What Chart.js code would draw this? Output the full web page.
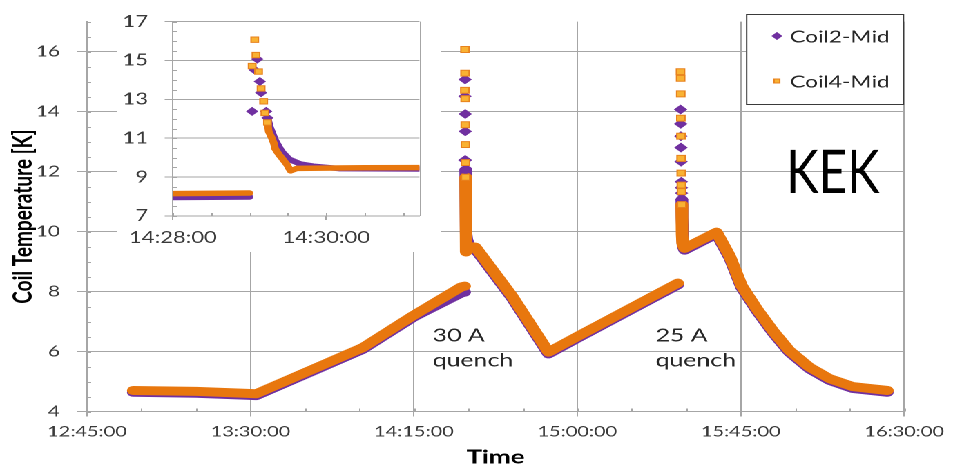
<!DOCTYPE html>
<html>
<head>
<meta charset="utf-8">
<title>Coil temperature</title>
<script src="https://cdn.jsdelivr.net/npm/chart.js@4.4.1/dist/chart.umd.min.js"></script>
<style>
  html, body { margin: 0; padding: 0; background: #fff; overflow: hidden; }
  /* the sheet is laid out narrow and widened as a whole */
  #stage { position: relative; width: 690px; height: 467px; transform: scaleX(1.3812); transform-origin: 0 0; }
  #main { position: absolute; left: 0; top: 0; }
  #zoom { position: absolute; left: 84.7px; top: 0; background: #fff; }
</style>
</head>
<body>
<div id="stage">
  <canvas id="main" width="690" height="467"></canvas>
  <canvas id="zoom" width="234" height="252"></canvas>
</div>
<script>
// ---- data (null = gap in the trace) ----
const coil2Time = ['12:57:42','13:15:06','13:31:34','14:00:54','14:15:06','14:28:00','14:29:00','14:29:01',
  '14:29:14','14:29:16','14:29:20','14:29:25','14:29:31','14:29:40','14:29:50','14:30:10','14:31:13','14:31:56',
  '14:42:00','14:52:04','15:00:00','15:27:40','15:28:00',
  '15:28:45','15:28:48','15:28:52','15:28:56','15:29:01','15:29:10','15:29:32','15:38:20','15:42:00','15:45:12',
  '15:49:18','15:53:54','15:58:24','16:03:54','16:09:24','16:15:48','16:25:24'];
const coil2Temp = [4.64,4.61,4.53,6.07,7.16,7.95,7.98,null,
  12.05,11.56,10.90,10.33,9.92,9.67,9.56,9.44,9.42,9.41,
  7.79,5.92,6.44,8.22,null,
  11.06,10.79,10.46,10.14,9.81,9.52,9.38,9.92,9.11,8.14,
  7.38,6.62,5.97,5.42,5.04,4.77,4.64];

const coil4Time = ['12:57:42','13:15:06','13:31:34','14:00:54','14:15:06','14:28:00','14:29:00','14:29:01',
  '14:29:14','14:29:15','14:29:17','14:29:19','14:29:20','14:29:23','14:29:26','14:29:29','14:29:32','14:29:37',
  '14:30:30','14:31:13','14:31:56','14:42:00','14:52:04','15:00:00','15:27:40','15:28:00',
  '15:28:44','15:28:47','15:28:50','15:28:54','15:28:58','15:29:10','15:29:32','15:38:20','15:42:00','15:45:12',
  '15:49:18','15:53:54','15:58:24','16:03:54','16:09:24','16:15:48','16:25:24'];
const coil4Temp = [4.70,4.67,4.59,6.13,7.22,8.15,8.18,null,
  11.81,11.34,11.07,10.74,10.46,10.16,9.92,9.67,9.32,9.45,
  9.48,9.49,9.48,7.85,5.98,6.50,8.28,null,
  10.90,10.57,10.24,9.91,9.62,9.55,9.44,9.98,9.17,8.20,
  7.44,6.68,6.03,5.48,5.10,4.83,4.70];

// sparse readings right after each quench (30 A, then 25 A)
const coil2QuenchTime = ['14:29:02','14:29:04','14:29:06','14:29:08','14:29:09','14:29:13','14:29:14',
  '15:28:26','15:28:28','15:28:30','15:28:32','15:28:34','15:28:38','15:28:40','15:28:42','15:28:45'];
const coil2QuenchTemp = [12.38,14.51,15.07,13.92,13.34,12.38,12.05,
  14.07,13.59,13.18,12.80,12.33,11.66,11.46,11.28,11.06];
const coil4QuenchTime = ['14:29:02','14:29:04','14:29:05','14:29:07','14:29:09','14:29:11','14:29:12','14:29:14',
  '15:28:25','15:28:27','15:28:29','15:28:31','15:28:33','15:28:35','15:28:37','15:28:39','15:28:41','15:28:44'];
const coil4QuenchTemp = [14.71,16.07,15.28,14.43,13.56,12.90,12.30,11.81,
  15.33,15.11,14.59,13.78,13.18,12.44,11.95,11.55,11.33,10.90];

const mainTimeTicks = ['12:45:00','13:30:00','14:15:00','15:00:00','15:45:00','16:30:00'];
const mainTempTicks = [4, 6, 8, 10, 12, 14, 16];
const zoomTimeTicks = ['14:28:00','14:30:00'];
const zoomTempTicks = [7, 9, 11, 13, 15, 17];

// ---- helpers ----
const sec = t => { const p = t.split(':').map(Number); return p[0] * 3600 + p[1] * 60 + p[2]; };
const clock = s => {
  s = Math.round(s);
  const h = Math.floor(s / 3600), m = Math.floor(s % 3600 / 60), x = s % 60;
  return h + ':' + String(m).padStart(2, '0') + ':' + String(x).padStart(2, '0');
};
const points = (times, temps) => times.map((t, i) => ({ x: sec(t), y: temps[i] }));

const GRID = '#a6a6a6';
const INK = '#3a3a3a';
const PURPLE = '#7030a0';
const ORANGE = '#e8770e';

function traces(lineWidth, mark) {
  return [
    { label: 'Coil4-Mid', data: points(coil4QuenchTime, coil4QuenchTemp), showLine: false,
      pointStyle: 'rect', pointRadius: mark, pointBackgroundColor: '#f9b233', pointBorderColor: '#e8821e',
      pointBorderWidth: 1, order: 0, legendSlot: 1 },
    { label: 'Coil2-Mid', data: points(coil2QuenchTime, coil2QuenchTemp), showLine: false,
      pointStyle: 'rectRot', pointRadius: mark, pointBackgroundColor: PURPLE, pointBorderColor: PURPLE,
      pointBorderWidth: 1, order: 1, legendSlot: 0 },
    { label: 'Coil4-Mid', data: points(coil4Time, coil4Temp), showLine: true, borderColor: ORANGE,
      borderWidth: lineWidth, borderJoinStyle: 'round', borderCapStyle: 'round', pointRadius: 0, order: 2 },
    { label: 'Coil2-Mid', data: points(coil2Time, coil2Temp), showLine: true, borderColor: PURPLE,
      borderWidth: lineWidth, borderJoinStyle: 'round', borderCapStyle: 'round', pointRadius: 0, order: 3 }
  ];
}

// fixed tick sets instead of auto ones
const fixedTicks = values => scale => { scale.ticks = values.map(v => ({ value: v })); };

// short inside ticks between the labelled ones
const minorTicks = {
  id: 'minorTicks',
  beforeDatasetsDraw(chart, args, opts) {
    const { ctx, chartArea: a, scales: { x, y } } = chart;
    ctx.save();
    ctx.strokeStyle = GRID;
    ctx.lineWidth = 1;
    ctx.beginPath();
    for (let v = x.min; v <= x.max + 1e-6; v += opts.x) {
      const px = Math.round(x.getPixelForValue(v)) + 0.5;
      ctx.moveTo(px, a.bottom);
      ctx.lineTo(px, a.bottom - opts.len);
    }
    for (let v = y.min; v <= y.max + 1e-6; v += opts.y) {
      const py = Math.round(y.getPixelForValue(v)) + 0.5;
      ctx.moveTo(a.left, py);
      ctx.lineTo(a.left + opts.len, py);
    }
    if (opts.rightEdge) {
      const px = Math.round(a.right) + 0.5;
      ctx.moveTo(px, a.top);
      ctx.lineTo(px, a.bottom);
    }
    ctx.stroke();
    ctx.restore();
  }
};

// boxed legend in the upper right corner of the plot
const boxLegend = {
  id: 'boxLegend',
  afterDraw(chart, args, opts) {
    const { ctx, chartArea: a } = chart;
    const left = opts.left, right = a.right, top = opts.top, bottom = opts.bottom;
    ctx.save();
    ctx.fillStyle = '#fff';
    ctx.fillRect(left, top, right - left, bottom - top);
    ctx.strokeStyle = INK;
    ctx.lineWidth = 1;
    ctx.strokeRect(left + 0.5, top + 0.5, right - left - 1, bottom - top - 1);
    const entries = chart.data.datasets.filter(d => d.legendSlot !== undefined)
      .sort((p, q) => p.legendSlot - q.legendSlot);
    entries.forEach((d, i) => {
      const cy = opts.rows[i];
      ctx.fillStyle = d.pointBackgroundColor;
      ctx.strokeStyle = d.pointBorderColor;
      ctx.lineWidth = 1;
      Chart.helpers.drawPoint(ctx, { pointStyle: d.pointStyle, radius: opts.markRadius[i], rotation: 0, borderWidth: 1 }, opts.markX, cy);
      ctx.fillStyle = '#262626';
      ctx.font = opts.font;
      ctx.textBaseline = 'middle';
      ctx.fillText(d.label, opts.textX, cy + 1);
    });
    ctx.restore();
  }
};

// free text placed on the plot
const notes = {
  id: 'notes',
  afterDraw(chart, args, opts) {
    const { ctx } = chart;
    opts.items.forEach(n => {
      ctx.save();
      ctx.translate(n.x, n.y);
      ctx.scale(n.squeeze || 1, 1);
      ctx.font = n.font;
      ctx.fillStyle = n.color;
      ctx.textBaseline = 'alphabetic';
      ctx.fillText(n.text, 0, 0);
      ctx.restore();
    });
  }
};

// ---- main chart ----
new Chart(document.getElementById('main'), {
  type: 'scatter',
  data: { datasets: traces(9, 4.2) },
  options: {
    responsive: false,
    animation: false,
    devicePixelRatio: 2,
    spanGaps: false,
    events: [],
    layout: { padding: { top: 12.8, right: 33.3, left: 0, bottom: 0 } },
    scales: {
      x: {
        type: 'linear',
        min: sec(mainTimeTicks[0]),
        max: sec(mainTimeTicks[mainTimeTicks.length - 1]),
        afterBuildTicks: fixedTicks(mainTimeTicks.map(sec)),
        afterFit: s => { s.height = 55.5; },
        grid: { color: GRID, tickColor: GRID, tickLength: 5 },
        border: { color: GRID },
        ticks: { color: INK, padding: 6.5, maxRotation: 0, font: { family: 'Lato', size: 14.5 }, callback: v => clock(v) },
        title: { display: true, text: 'Time', color: '#000', padding: { top: 0, bottom: 0 },
                 font: { family: 'Lato', size: 19, weight: 'bold', lineHeight: 1 } }
      },
      y: {
        min: 4,
        max: 17,
        afterBuildTicks: fixedTicks(mainTempTicks),
        afterFit: s => { s.width = 63; },
        grid: { color: GRID, tickColor: GRID, tickLength: 7 },
        border: { color: GRID },
        ticks: { color: INK, padding: 12.6, font: { family: 'Lato', size: 15 } },
        title: { display: true, text: 'Coil Temperature [K]', color: '#000', padding: { top: 5.5, bottom: 0 },
                 font: { family: 'Lato', size: 19, weight: 'bold' } }
      }
    },
    plugins: {
      legend: { display: false },
      tooltip: { enabled: false },
      minorTicks: { x: 900, y: 0.5, len: 3 },
      boxLegend: { left: 540.1, top: 14, bottom: 105, rows: [36, 81], markX: 562.5, markRadius: [3.3, 2.9],
                   textX: 572, font: '16.5px Lato' },
      notes: { items: [
        { text: 'KEK', x: 569.1, y: 193, font: '60px Lato', color: '#000', squeeze: 0.593 },
        { text: '30 A', x: 313.3, y: 341.7, font: '18px Lato', color: '#262626' },
        { text: 'quench', x: 313.3, y: 366.7, font: '18px Lato', color: '#262626' },
        { text: '25 A', x: 474.6, y: 341.7, font: '18px Lato', color: '#262626' },
        { text: 'quench', x: 474.6, y: 366.7, font: '18px Lato', color: '#262626' }
      ] }
    }
  },
  plugins: [minorTicks, boxLegend, notes]
});

// ---- close-up of the 30 A quench ----
new Chart(document.getElementById('zoom'), {
  type: 'scatter',
  data: { datasets: traces(5.5, 3.8) },
  options: {
    responsive: false,
    animation: false,
    devicePixelRatio: 2,
    spanGaps: false,
    events: [],
    layout: { padding: { top: 12.7, right: 15.3, left: 0, bottom: 0 } },
    scales: {
      x: {
        type: 'linear',
        min: sec('14:28:00'),
        max: sec('14:31:13'),
        afterBuildTicks: fixedTicks(zoomTimeTicks.map(sec)),
        afterFit: s => { s.height = 36; },
        grid: { drawOnChartArea: false, color: GRID, tickColor: GRID, tickLength: 4 },
        border: { color: GRID },
        ticks: { color: INK, padding: 8.4, maxRotation: 0, font: { family: 'Lato', size: 16 }, callback: v => clock(v) }
      },
      y: {
        min: 7,
        max: 17,
        afterBuildTicks: fixedTicks(zoomTempTicks),
        afterFit: s => { s.width = 39.6; },
        grid: { color: GRID, tickColor: GRID, tickLength: 6 },
        border: { color: GRID },
        ticks: { color: INK, padding: 12, font: { family: 'Lato', size: 16 } }
      }
    },
    plugins: {
      legend: { display: false },
      tooltip: { enabled: false },
      minorTicks: { x: 30, y: 0.5, len: 3, rightEdge: true }
    }
  },
  plugins: [minorTicks]
});
</script>
</body>
</html>
